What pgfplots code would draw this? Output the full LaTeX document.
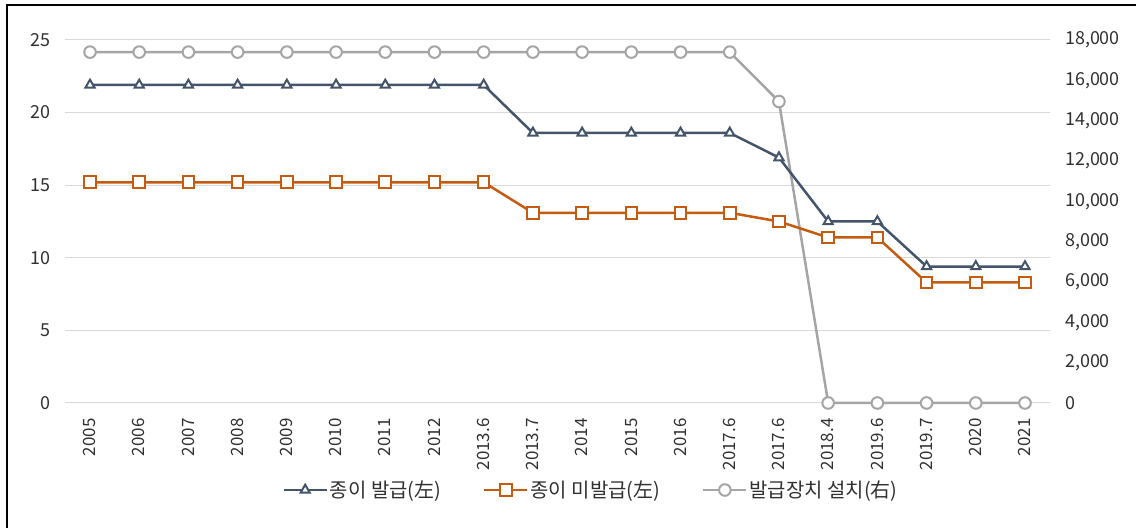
\documentclass[border=0pt]{standalone}
\usepackage{fontspec}
\setmainfont{Noto Sans CJK KR}
\usepackage{pgfplots}
\pgfplotsset{compat=1.18}
\definecolor{cblue}{HTML}{44546A}
\definecolor{corange}{HTML}{C55A11}
\definecolor{cgray}{HTML}{A5A5A5}
\definecolor{gridc}{HTML}{D9D9D9}
\definecolor{textc}{HTML}{303030}
\begin{document}
\begin{tikzpicture}[x=1bp,y=1bp]
\useasboundingbox (0,0) rectangle (1136,528);
\draw[black,line width=1.6bp] (7,0) -- (7,523) -- (1136,523);
\pgfplotsset{
  base/.style={scale only axis, width=984.2bp, height=363bp,
    at={(65.4bp,125bp)}, anchor=south west, xmin=-0.5, xmax=19.5,
    clip=false, major tick length=0pt,
    /pgf/number format/assume math mode=true,
    tick label style={font=\fontsize{18}{18}\selectfont, text=textc}},
}
% axis 1: grid, left ticks, x labels
\begin{axis}[base, ymin=0, ymax=25, ytick={0,5,...,25},
  ymajorgrids, grid style={draw=gridc, line width=1bp},
  axis x line*=bottom, axis y line*=left,
  x axis line style={draw=gridc, line width=1bp, -},
  y axis line style={draw=none},
  xtick={0,...,19},
  xticklabels={2005,2006,2007,2008,2009,2010,2011,2012,2013.6,2013.7,2014,2015,2016,2017.6,2017.6,2018.4,2019.6,2019.7,2020,2021},
  xticklabel style={font=\fontsize{17}{17}\selectfont, rotate=90, anchor=mid east, xshift=-12bp, yshift=-3bp},
  yticklabel style={xshift=-11bp},
]
\end{axis}
% axis 2: right axis, gray series
\begin{axis}[base, ymin=0, ymax=18000, ytick={0,2000,...,18000},
  axis y line*=right, axis x line=none,
  y axis line style={draw=none},
  scaled y ticks=false,
  yticklabel style={/pgf/number format/1000 sep={,}, xshift=12bp},
]
\addplot[cgray, line width=2.5bp, mark=*, mark size=5.8bp,
  mark options={fill=white, draw=cgray, line width=2bp}]
  coordinates {(0,17400)(1,17400)(2,17400)(3,17400)(4,17400)(5,17400)(6,17400)(7,17400)(8,17400)(9,17400)(10,17400)(11,17400)(12,17400)(13,17400)(14,14950)(15,0)(16,0)(17,0)(18,0)(19,0)};
\end{axis}
% axis 3: blue and orange series, legend
\begin{axis}[base, ymin=0, ymax=25, hide axis,
  legend columns=3,
  legend style={at={(0.534,-0.2397)}, anchor=center, draw=none, fill=none,
    font=\fontsize{20}{20}\selectfont, text=textc,
    /tikz/column 2/.style={column sep=40bp},
    /tikz/column 4/.style={column sep=40bp}},
  legend image code/.code={\draw[mark repeat=2,mark phase=2,#1] plot coordinates {(0bp,0bp) (21.5bp,0bp) (43bp,0bp)};},
]
\addplot[cblue, line width=2.5bp, mark=triangle*, mark size=5.3bp,
  mark options={fill=white, draw=cblue, line width=2bp}]
  coordinates {(0,21.9)(1,21.9)(2,21.9)(3,21.9)(4,21.9)(5,21.9)(6,21.9)(7,21.9)(8,21.9)(9,18.6)(10,18.6)(11,18.6)(12,18.6)(13,18.6)(14,16.9)(15,12.5)(16,12.5)(17,9.4)(18,9.4)(19,9.4)};
\addlegendentry{종이 발급(左)}
\addplot[corange, line width=2.5bp, mark=square*, mark size=5.8bp,
  mark options={fill=white, draw=corange, line width=2bp}]
  coordinates {(0,15.2)(1,15.2)(2,15.2)(3,15.2)(4,15.2)(5,15.2)(6,15.2)(7,15.2)(8,15.2)(9,13.1)(10,13.1)(11,13.1)(12,13.1)(13,13.1)(14,12.5)(15,11.4)(16,11.4)(17,8.3)(18,8.3)(19,8.3)};
\addlegendentry{종이 미발급(左)}
\addlegendimage{cgray, line width=2.5bp, mark=*, mark size=5.8bp,
  mark options={fill=white, draw=cgray, line width=2bp}}
\addlegendentry{발급장치 설치(右)}
\end{axis}
\end{tikzpicture}
\end{document}
